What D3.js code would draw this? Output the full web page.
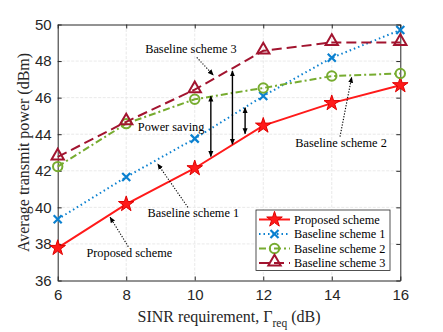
<!DOCTYPE html>
<html>
<head>
<meta charset="utf-8">
<script src="https://cdn.jsdelivr.net/npm/d3@7"></script>
<style>
  body { margin: 0; background: #fff; }
  svg { display: block; }
</style>
</head>
<body>
<svg id="chart"></svg>
<script>
// data
var sinr = [6, 8, 10, 12, 14, 16];
var proposed = [37.78, 40.18, 42.14, 44.47, 45.70, 46.68];
var baseline1 = [39.35, 41.66, 43.76, 46.09, 48.18, 49.70];
var baseline2 = [42.23, 44.58, 45.91, 46.53, 47.18, 47.32];
var baseline3 = [42.76, 44.68, 46.44, 48.56, 49.02, 49.02];
var xTicks = [6, 8, 10, 12, 14, 16];
var yTicks = [36, 38, 40, 42, 44, 46, 48, 50];

// power-saving arrows: x, lower y, upper y
var savingArrows = [
  [10.47, 42.78, 46.08],
  [11.10, 43.45, 47.46],
  [11.47, 44.03, 45.45]
];

var W = 443, H = 332;
var margin = { top: 24.5, right: 42.7, bottom: 51.5, left: 57.7 },
  width = W - margin.left - margin.right,
  height = H - margin.top - margin.bottom;

var svg = d3.select("#chart").attr("width", W).attr("height", H);

var defs = svg.append("defs");
defs.append("marker")
  .attr("id", "head")
  .attr("viewBox", "0 0 10 10")
  .attr("refX", 9).attr("refY", 5)
  .attr("markerWidth", 6).attr("markerHeight", 6)
  .attr("markerUnits", "userSpaceOnUse")
  .attr("orient", "auto-start-reverse")
  .append("path")
  .attr("d", "M0,0.8 L10,5 L0,9.2 Z")
  .attr("fill", "#000");

var g = svg.append("g")
  .attr("transform", "translate(" + margin.left + "," + margin.top + ")");

var x = d3.scaleLinear().domain([6, 16]).range([0, width]);
var y = d3.scaleLinear().domain([36, 50]).range([height, 0]);

// grid
g.append("g").selectAll("line").data(xTicks.slice(1, -1)).enter().append("line")
  .attr("x1", function (d) { return x(d); }).attr("x2", function (d) { return x(d); })
  .attr("y1", 0).attr("y2", height)
  .attr("stroke", "#e3e3e3").attr("stroke-width", 0.8).attr("stroke-dasharray", "3,1.5");
g.append("g").selectAll("line").data(yTicks.slice(1, -1)).enter().append("line")
  .attr("y1", function (d) { return y(d); }).attr("y2", function (d) { return y(d); })
  .attr("x1", 0).attr("x2", width)
  .attr("stroke", "#e3e3e3").attr("stroke-width", 0.8).attr("stroke-dasharray", "3,1.5");

// axes
var xAxis = g.append("g")
  .attr("transform", "translate(0," + height + ")")
  .call(d3.axisBottom(x).tickValues(xTicks).tickSizeInner(-4).tickSizeOuter(0).tickPadding(9));
var yAxis = g.append("g")
  .call(d3.axisLeft(y).tickValues(yTicks).tickSizeInner(-4).tickSizeOuter(0).tickPadding(6));
[xAxis, yAxis].forEach(function (a) {
  a.selectAll("text").style("font-family", "Liberation Sans, Arial, sans-serif")
    .style("font-size", "15px").attr("fill", "#262626");
  a.selectAll("line").attr("stroke", "#262626");
  a.select(".domain").attr("stroke", "#262626");
});
xAxis.selectAll("text").attr("dy", "0.71em");
// top/right ticks and box
g.append("g").call(d3.axisTop(x).tickValues(xTicks).tickSizeInner(-4).tickSizeOuter(0).tickFormat(""))
  .selectAll("line,path").attr("stroke", "#262626");
g.append("g").attr("transform", "translate(" + width + ",0)")
  .call(d3.axisRight(y).tickValues(yTicks).tickSizeInner(-4).tickSizeOuter(0).tickFormat(""))
  .selectAll("line,path").attr("stroke", "#262626");

// axis labels
var serif = "Liberation Serif, Times New Roman, serif";
var xl = svg.append("text")
  .attr("x", margin.left + width / 2).attr("y", 322)
  .attr("text-anchor", "middle")
  .style("font-family", serif).style("font-size", "16px").attr("fill", "#262626");
xl.append("tspan").text("SINR requirement, \u0393");
xl.append("tspan").attr("dy", 5).style("font-size", "11.5px").text("req");
xl.append("tspan").attr("dy", -5).text(" (dB)");

svg.append("text")
  .attr("transform", "translate(29," + (margin.top + height / 2) + ") rotate(-90)")
  .attr("text-anchor", "middle")
  .style("font-family", serif).style("font-size", "16px").attr("fill", "#262626")
  .text("Average transmit power (dBm)");

// series
var series = [
  { name: "Proposed scheme", values: proposed, color: "#ff1a1a", dash: null, marker: "star" },
  { name: "Baseline scheme 1", values: baseline1, color: "#0a80d0", dash: "1.5,3", marker: "x" },
  { name: "Baseline scheme 2", values: baseline2, color: "#77ac30", dash: "7,3,2,3", marker: "circle" },
  { name: "Baseline scheme 3", values: baseline3, color: "#a2142f", dash: "10,5", marker: "triangle" }
];

var line = d3.line()
  .x(function (d) { return x(d[0]); })
  .y(function (d) { return y(d[1]); });

function drawMarker(sel, type, color) {
  if (type === "star") {
    sel.append("path").attr("d", d3.symbol(d3.symbolStar, 75)())
      .attr("fill", color).attr("stroke", "#e00000").attr("stroke-width", 1);
  } else if (type === "x") {
    sel.append("path").attr("d", "M-4,-4L4,4M-4,4L4,-4")
      .attr("fill", "none").attr("stroke", color).attr("stroke-width", 2.2);
  } else if (type === "circle") {
    sel.append("circle").attr("r", 4.7)
      .attr("fill", "none").attr("stroke", color).attr("stroke-width", 2);
  } else {
    sel.append("path").attr("d", d3.symbol(d3.symbolTriangle, 66)())
      .attr("transform", "translate(0,-1)")
      .attr("fill", "none").attr("stroke", color).attr("stroke-width", 2);
  }
}

series.forEach(function (s) {
  var pts = sinr.map(function (v, i) { return [v, s.values[i]]; });
  g.append("path").datum(pts)
    .attr("d", line)
    .attr("fill", "none")
    .attr("stroke", s.color)
    .attr("stroke-width", 2)
    .attr("stroke-dasharray", s.dash);
  g.selectAll(null).data(pts).enter().append("g")
    .attr("transform", function (d) { return "translate(" + x(d[0]) + "," + y(d[1]) + ")"; })
    .each(function () { drawMarker(d3.select(this), s.marker, s.color); });
});

// power saving arrows
g.selectAll(null).data(savingArrows).enter().append("line")
  .attr("x1", function (d) { return x(d[0]); }).attr("x2", function (d) { return x(d[0]); })
  .attr("y1", function (d) { return y(d[1]); }).attr("y2", function (d) { return y(d[2]); })
  .attr("stroke", "#000").attr("stroke-width", 1.4)
  .attr("marker-start", "url(#head)").attr("marker-end", "url(#head)");

// annotations: text, text x,y (data), arrow from, arrow to (data)
var notes = [
  { text: "Baseline scheme 3", tx: 9.89, ty: 48.46, from: [10.06, 48.2], to: [10.54, 47.24] },
  { text: "Power saving", tx: 9.31, ty: 44.18, from: null, to: null },
  { text: "Baseline scheme 1", tx: 9.96, ty: 39.46, from: [9.80, 40.0], to: [8.92, 42.37] },
  { text: "Proposed scheme", tx: 8.09, ty: 37.27, from: [8.06, 37.85], to: [7.53, 39.46] },
  { text: "Baseline scheme 2", tx: 14.27, ty: 43.32, from: [14.24, 43.87], to: [14.58, 47.11] }
];
g.selectAll(null).data(notes).enter().append("text")
  .attr("x", function (d) { return x(d.tx); })
  .attr("y", function (d) { return y(d.ty); })
  .attr("text-anchor", "middle")
  .style("font-family", serif).style("font-size", "12.3px").attr("fill", "#000")
  .text(function (d) { return d.text; });
g.selectAll(null).data(notes.filter(function (d) { return d.from; })).enter().append("line")
  .attr("x1", function (d) { return x(d.from[0]); }).attr("y1", function (d) { return y(d.from[1]); })
  .attr("x2", function (d) { return x(d.to[0]); }).attr("y2", function (d) { return y(d.to[1]); })
  .attr("stroke", "#000").attr("stroke-width", 1.1).attr("stroke-dasharray", "1.2,1.6")
  .attr("marker-end", "url(#head)");

// legend
var lg = svg.append("g").attr("transform", "translate(256,210)");
lg.append("rect").attr("width", 134).attr("height", 60.5)
  .attr("fill", "#fff").attr("stroke", "#262626").attr("stroke-width", 0.8);
series.forEach(function (s, i) {
  var row = lg.append("g").attr("transform", "translate(0," + (9.5 + i * 14.5) + ")");
  row.append("line").attr("x1", 3).attr("x2", 34).attr("y1", 0).attr("y2", 0)
    .attr("stroke", s.color).attr("stroke-width", 2).attr("stroke-dasharray", s.dash);
  drawMarker(row.append("g").attr("transform", "translate(18.5,0)"), s.marker, s.color);
  row.append("text").attr("x", 38).attr("y", 4)
    .style("font-family", serif).style("font-size", "12.3px").attr("fill", "#000")
    .text(s.name);
});
</script>
</body>
</html>
